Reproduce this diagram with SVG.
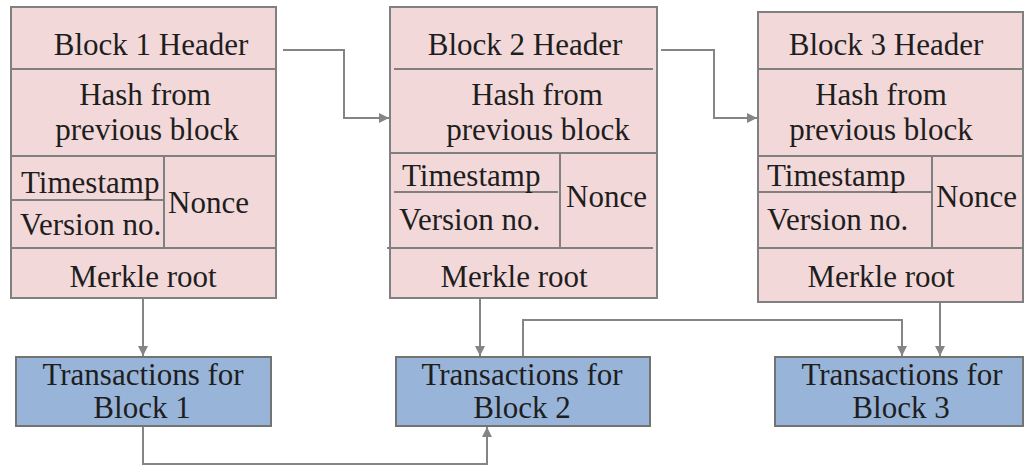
<svg xmlns="http://www.w3.org/2000/svg" width="1024" height="468" viewBox="0 0 1024 468">
  <style>
    .hdr { fill: #f2d8d9; stroke: #808080; stroke-width: 2; }
    .tx { fill: #98b4d8; stroke: #737373; stroke-width: 2; }
    .div { stroke: #808080; stroke-width: 2; fill: none; }
    .t { font-family: 'Liberation Serif', 'Times New Roman', Times, 'DejaVu Serif', serif; font-size: 31px; fill: #1e1e1e; }
    .c { text-anchor: middle; }
    .conn { stroke: #858585; stroke-width: 2; fill: none; marker-end: url(#arr); }
  </style>
  <defs>
    <marker id="arr" viewBox="0 0 10 10" refX="10" refY="5" markerWidth="5" markerHeight="5" markerUnits="strokeWidth" orient="auto">
      <path d="M0,0 L10,5 L0,10 z" fill="#858585"/>
    </marker>
  </defs>
  <rect width="1024" height="468" fill="#ffffff"/>

  <!-- Block 1 header -->
  <g id="block1">
    <rect class="hdr" x="11" y="7" width="265" height="291"/>
    <path class="div" d="M11,69 H276 M11,156 H276 M11,248 H276 M11,200 H164 M164,156 V248"/>
    <text class="t c" x="151" y="55">Block 1 Header</text>
    <text class="t c" x="145" y="105">Hash from</text>
    <text class="t c" x="147" y="140">previous block</text>
    <text class="t" x="21" y="193">Timestamp</text>
    <text class="t" x="20" y="235">Version no.</text>
    <text class="t" x="168" y="213">Nonce</text>
    <text class="t c" x="143" y="287">Merkle root</text>
  </g>

  <!-- Block 2 header -->
  <g id="block2">
    <rect class="hdr" x="390" y="7" width="267" height="291"/>
    <path class="div" d="M394,69 H653 M390,153 H657 M387,248 H653 M394,192 H558 M560,153 V248"/>
    <text class="t c" x="525" y="55">Block 2 Header</text>
    <text class="t c" x="537" y="105">Hash from</text>
    <text class="t c" x="538" y="140">previous block</text>
    <text class="t" x="402" y="186">Timestamp</text>
    <text class="t" x="399" y="230">Version no.</text>
    <text class="t" x="566" y="207">Nonce</text>
    <text class="t c" x="514" y="287">Merkle root</text>
  </g>

  <!-- Block 3 header -->
  <g id="block3">
    <rect class="hdr" x="758" y="12" width="265" height="290"/>
    <path class="div" d="M758,69 H1023 M758,156 H1023 M758,248 H1023 M758,192 H932 M932,156 V248"/>
    <text class="t c" x="886" y="55">Block 3 Header</text>
    <text class="t c" x="881" y="105">Hash from</text>
    <text class="t c" x="881" y="140">previous block</text>
    <text class="t" x="767" y="186">Timestamp</text>
    <text class="t" x="767" y="230">Version no.</text>
    <text class="t" x="936" y="207">Nonce</text>
    <text class="t c" x="881" y="287">Merkle root</text>
  </g>

  <!-- Transaction boxes -->
  <g id="tx1">
    <rect class="tx" x="16" y="357" width="255" height="69"/>
    <text class="t c" x="143" y="385">Transactions for</text>
    <text class="t c" x="142" y="418">Block 1</text>
  </g>
  <g id="tx2">
    <rect class="tx" x="396" y="357" width="254" height="69"/>
    <text class="t c" x="522" y="385">Transactions for</text>
    <text class="t c" x="522" y="418">Block 2</text>
  </g>
  <g id="tx3">
    <rect class="tx" x="775" y="357" width="248" height="69"/>
    <text class="t c" x="902" y="385">Transactions for</text>
    <text class="t c" x="901" y="418">Block 3</text>
  </g>

  <!-- Connectors -->
  <g id="connectors">
    <path class="conn" d="M283,50 H344 V118 H389"/>
    <path class="conn" d="M661,50 H714 V118 H757"/>
    <path class="conn" d="M143,299 V356"/>
    <path class="conn" d="M480,299 V356"/>
    <path class="conn" d="M940,303 V356"/>
    <path class="conn" d="M143,427 V464 H487 V427"/>
    <path class="conn" d="M523,356 V320 H902 V356"/>
  </g>
</svg>
